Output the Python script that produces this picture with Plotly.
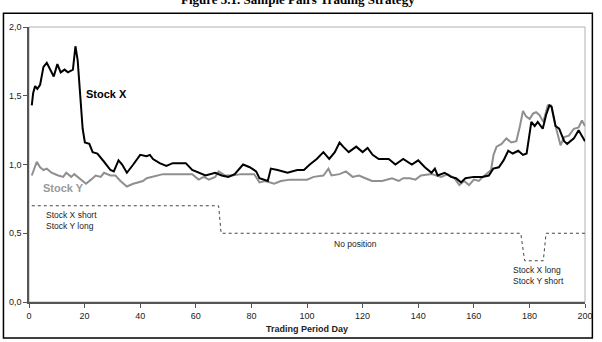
import plotly.graph_objects as go

# ---- data ----
x_days = [1, 1.5, 2.2, 3, 4, 5.2, 6.4, 7.5, 8.9, 10.2, 11.4, 12.8, 14, 15.8, 16.7, 17.5, 18.5, 19.3, 20.1,
          21.7, 22.9, 24.6, 27, 29.3, 30.5, 32.2, 33.5, 35.2, 37.5, 40, 42.3, 43.5, 44.6, 47, 49.4, 51.7,
          54, 56.4, 58.7, 61, 63.5, 67, 69.3, 71.7, 74, 77, 79.4, 81.7, 82.9, 85.9, 87, 89.4, 93, 96.5,
          98.9, 101, 103.5, 105.9, 108, 110, 111.7, 113, 115, 117.7, 120, 121.8, 123.6, 125.8, 129.4,
          131.8, 134.6, 137.7, 140, 142.4, 144.8, 146, 147, 149.5, 151.8, 153.6, 155.4, 157, 160, 163,
          165.4, 167, 169, 170.7, 172.4, 174, 176, 177.7, 179, 180.7, 181.9, 183, 184.8, 186, 187.2, 188,
          189.4, 190.7, 192.5, 193.6, 196, 197.7, 198.9, 200]
stock_x = [1.43, 1.52, 1.57, 1.55, 1.58, 1.71, 1.74, 1.70, 1.64, 1.73, 1.67, 1.69, 1.67, 1.69, 1.86, 1.76,
           1.50, 1.26, 1.16, 1.15, 1.09, 1.08, 1.02, 0.96, 0.95, 1.03, 1.00, 0.94, 1.00, 1.07, 1.06, 1.07,
           1.04, 1.01, 0.99, 1.01, 1.01, 1.01, 0.96, 0.94, 0.92, 0.94, 0.92, 0.91, 0.93, 1.00, 0.98, 0.95,
           0.90, 0.88, 0.97, 0.96, 0.94, 0.96, 0.96, 1.00, 1.04, 1.09, 1.04, 1.09, 1.16, 1.13, 1.09, 1.13,
           1.09, 1.12, 1.07, 1.04, 1.04, 1.00, 1.04, 1.00, 1.03, 0.98, 0.94, 0.97, 0.92, 0.94, 0.91, 0.90,
           0.87, 0.90, 0.91, 0.91, 0.92, 0.97, 0.98, 1.03, 1.10, 1.08, 1.10, 1.07, 1.08, 1.31, 1.28, 1.31,
           1.26, 1.36, 1.43, 1.42, 1.28, 1.26, 1.17, 1.15, 1.19, 1.25, 1.21, 1.17]

y_days = [1, 2.8, 4, 5.2, 6.4, 8.1, 10.5, 12.3, 13.4, 15.2, 16.3, 18.1, 20.5, 22.3, 24, 25.8, 27, 29.3,
          31.1, 32.9, 35.2, 37.5, 41, 42.3, 44.6, 48.2, 51.7, 56.4, 58.7, 61, 62.9, 64.7, 67, 68.2, 70.6,
          73, 76.3, 81, 82.9, 85, 88.2, 90.6, 94, 96.5, 100, 102.4, 105.9, 107.7, 108.8, 111.7, 114,
          116.4, 118.7, 121, 123.4, 127, 130.6, 133, 134.6, 137, 139, 141, 144.8, 148.3, 150.6, 153,
          154.8, 156.5, 158.3, 160, 161.8, 163.3, 164.9, 166.2, 167.1, 168.2, 170, 171.7, 173.5, 175.3,
          176.6, 177.7, 178.8, 180.1, 181.3, 182.4, 183.6, 185, 186.6, 187.8, 189.4, 191.2, 192.5, 194.2,
          196, 197.7, 198.9, 200]
stock_y = [0.92, 1.02, 0.98, 0.96, 0.97, 0.94, 0.92, 0.91, 0.94, 0.91, 0.93, 0.90, 0.86, 0.89, 0.92, 0.91,
           0.94, 0.92, 0.92, 0.88, 0.84, 0.86, 0.88, 0.90, 0.91, 0.93, 0.93, 0.93, 0.93, 0.89, 0.91, 0.89,
           0.91, 0.95, 0.92, 0.92, 0.93, 0.93, 0.87, 0.88, 0.86, 0.88, 0.89, 0.89, 0.89, 0.91, 0.92, 0.97,
           0.92, 0.93, 0.95, 0.91, 0.92, 0.90, 0.88, 0.88, 0.90, 0.88, 0.90, 0.90, 0.89, 0.92, 0.93, 0.91,
           0.93, 0.90, 0.85, 0.88, 0.85, 0.89, 0.88, 0.91, 0.94, 0.96, 1.07, 1.13, 1.15, 1.19, 1.16, 1.17,
           1.28, 1.39, 1.35, 1.33, 1.37, 1.38, 1.36, 1.31, 1.43, 1.43, 1.28, 1.14, 1.20, 1.21, 1.26, 1.27,
           1.32, 1.28]

pos_days = [1, 68.2, 69.1, 176.9, 178.3, 185, 186, 200]
position = [0.7, 0.7, 0.5, 0.5, 0.3, 0.3, 0.5, 0.5]

x_ticks = [0, 20, 40, 60, 80, 100, 120, 140, 160, 180, 200]
y_ticks = [0.0, 0.5, 1.0, 1.5, 2.0]

fig = go.Figure()
fig.add_trace(go.Scatter(x=pos_days, y=position, mode="lines",
                         line=dict(color="#444444", width=1, dash="dot"), hoverinfo="skip"))
fig.add_trace(go.Scatter(x=y_days, y=stock_y, mode="lines",
                         line=dict(color="#8f8f8f", width=2)))
fig.add_trace(go.Scatter(x=x_days, y=stock_x, mode="lines",
                         line=dict(color="#000000", width=2)))

W, H = 602, 342
L, R, T, B = 27, 9, 27, 37
pw, ph = W - L - R, H - T - B

def px(xp):
    return (xp - L) / pw

def py(yp):
    return (H - B - yp) / ph

font = "Arial, Liberation Sans, sans-serif"
small = dict(size=8.5, color="#222222", family=font)
ann = [
    dict(text="<b>Stock X</b>", x=19.8, y=1.51, font=dict(size=11, color="#000000", family=font), xanchor="left"),
    dict(text="<b>Stock Y</b>", x=4.3, y=0.83, font=dict(size=11, color="#9a9a9a", family=font), xanchor="left"),
    dict(text="Stock X short", x=5.5, y=0.635, font=small, xanchor="left"),
    dict(text="Stock Y long", x=5.5, y=0.555, font=small, xanchor="left"),
    dict(text="No position", x=117.5, y=0.42, font=small, xanchor="center"),
    dict(text="Stock X long", x=173.5, y=0.235, font=small, xanchor="left"),
    dict(text="Stock Y short", x=173.5, y=0.155, font=small, xanchor="left"),
]
for a in ann:
    a.update(xref="x", yref="y", showarrow=False, yanchor="middle")
ann.append(dict(text="<b>Figure 5.1. Sample Pairs Trading Strategy</b>", xref="paper", yref="paper",
                x=px(301), y=py(9), xanchor="center", yanchor="bottom", showarrow=False,
                font=dict(size=13, color="#000000", family="Liberation Serif, Times New Roman, serif")))

fig.update_layout(
    width=W, height=H,
    margin=dict(l=L, r=R, t=T, b=B),
    paper_bgcolor="white", plot_bgcolor="white",
    showlegend=False,
    separators=",.",
    annotations=ann,
    font=dict(family=font, size=9, color="#222222"),
    shapes=[
        dict(type="rect", xref="paper", yref="paper", x0=0, x1=1, y0=0, y1=1,
             line=dict(color="#b0b0b0", width=1), layer="below"),
        dict(type="rect", xref="paper", yref="paper", x0=px(1), x1=px(600.5), y0=py(341.5), y1=py(13),
             line=dict(color="#000000", width=1.5)),
    ],
)
fig.update_xaxes(range=[0, 200], tickvals=x_ticks, ticks="outside", ticklen=4, tickcolor="#555555",
                 showline=True, linecolor="#555555", linewidth=1.5, showgrid=False, zeroline=False,
                 title=dict(text="<b>Trading Period Day</b>", font=dict(size=9, family=font), standoff=6),
                 tickfont=dict(size=9, family=font))
fig.update_yaxes(range=[0, 2], tickvals=y_ticks, tickformat=".1f", ticks="outside", ticklen=4,
                 tickcolor="#555555", showline=True, linecolor="#555555", linewidth=1.5,
                 showgrid=False, zeroline=False, tickfont=dict(size=9, family=font))

fig.write_html("out.html")
